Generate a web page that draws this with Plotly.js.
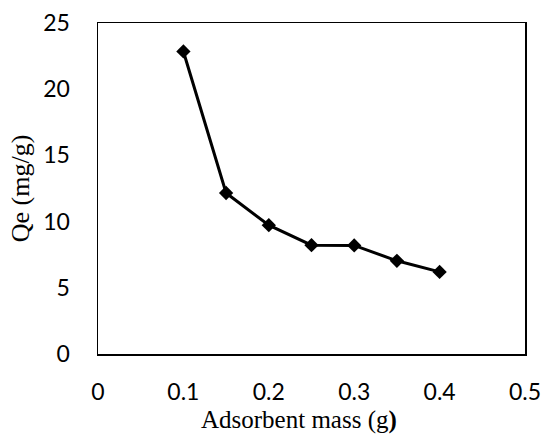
<!DOCTYPE html>
<html>
<head>
<meta charset="utf-8">
<script src="https://cdn.plot.ly/plotly-3.0.1.min.js"></script>
<style>html,body{margin:0;padding:0;background:#fff;}#chart{width:543px;height:434px;}</style>
</head>
<body>
<div id="chart"></div>
<script>
var massG = [0.1, 0.15, 0.2, 0.25, 0.3, 0.35, 0.4];
var qeMgG = [22.85, 12.16, 9.73, 8.22, 8.2, 7.04, 6.2];
var xTicks = [0, 0.1, 0.2, 0.3, 0.4, 0.5];
var xTickText = ["0", "0.1", "0.2", "0.3", "0.4", "0.5"];
var yTicks = [0, 5, 10, 15, 20, 25];

var trace = {
  x: massG, y: qeMgG, type: 'scatter', mode: 'lines+markers',
  line: {color: '#000', width: 3},
  marker: {symbol: 'diamond', size: 11, color: '#000'},
  showlegend: false
};
var tickFont = {family: 'Lato, "Noto Sans", sans-serif', size: 23, color: '#000'};
var xTitleFont = {family: '"Liberation Serif", "Times New Roman", serif', size: 25, color: '#000'};
var yTitleFont = {family: '"Liberation Serif", "Times New Roman", serif', size: 26, color: '#000'};
var layout = {
  width: 543, height: 434,
  margin: {l: 97.5, r: 18, t: 22.5, b: 80},
  paper_bgcolor: '#fff', plot_bgcolor: '#fff',
  xaxis: {
    range: [0, 0.5], tickvals: xTicks, ticktext: xTickText,
    showgrid: false, zeroline: false, showline: true, mirror: true,
    linecolor: '#000', linewidth: 1.5, ticks: '', ticklabelstandoff: 17,
    tickfont: tickFont
  },
  yaxis: {
    range: [0, 25], tickvals: yTicks,
    showgrid: false, zeroline: false, showline: true, mirror: true,
    linecolor: '#000', linewidth: 1.5, ticks: '', ticklabelstandoff: 22,
    tickfont: tickFont,
    title: {text: 'Qe (mg/g)', font: yTitleFont, standoff: 6}
  },
  annotations: [{
    text: 'Adsorbent mass (g<b>)</b>', xref: 'paper', yref: 'paper',
    x: 0.471, y: -0.2, xanchor: 'center', yanchor: 'middle',
    showarrow: false, font: xTitleFont
  }]
};
Plotly.newPlot('chart', [trace], layout, {staticPlot: true, displayModeBar: false});
</script>
</body>
</html>
